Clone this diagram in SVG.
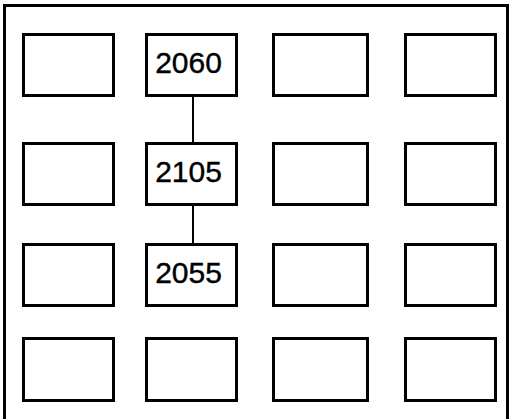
<svg xmlns="http://www.w3.org/2000/svg" width="514" height="419" viewBox="0 0 514 419">
<style>
.b{fill:#fff;stroke:#000;stroke-width:3}
.t{font-family:"Liberation Sans",Arial,sans-serif;font-size:30px;fill:#000;stroke:#000;stroke-width:0.4;text-anchor:middle}
.c{stroke:#000;stroke-width:2;fill:none}
</style>
<rect width="514" height="419" fill="#fff"/>
<path d="M4.5,425 V5.5 H507.5 V425" fill="none" stroke="#000" stroke-width="3"/>
<g id="connectors">
<line class="c" x1="193" y1="96" x2="193" y2="143"/>
<line class="c" x1="193" y1="205" x2="193" y2="244"/>
</g>
<g id="r1c1"><rect class="b" x="23.5" y="34.5" width="90" height="61"/></g>
<g id="n2060"><rect class="b" x="146.5" y="34.5" width="90" height="61"/><text class="t" x="188.5" y="73">2060</text></g>
<g id="r1c3"><rect class="b" x="273.5" y="34.5" width="94" height="61"/></g>
<g id="r1c4"><rect class="b" x="405.5" y="34.5" width="90" height="61"/></g>
<g id="r2c1"><rect class="b" x="23.5" y="143.5" width="90" height="61"/></g>
<g id="n2105"><rect class="b" x="146.5" y="143.5" width="90" height="61"/><text class="t" x="188.5" y="182">2105</text></g>
<g id="r2c3"><rect class="b" x="273.5" y="143.5" width="94" height="61"/></g>
<g id="r2c4"><rect class="b" x="405.5" y="143.5" width="90" height="61"/></g>
<g id="r3c1"><rect class="b" x="23.5" y="244.5" width="90" height="61"/></g>
<g id="n2055"><rect class="b" x="146.5" y="244.5" width="90" height="61"/><text class="t" x="188.5" y="283">2055</text></g>
<g id="r3c3"><rect class="b" x="273.5" y="244.5" width="94" height="61"/></g>
<g id="r3c4"><rect class="b" x="405.5" y="244.5" width="90" height="61"/></g>
<g id="r4c1"><rect class="b" x="23.5" y="338.5" width="90" height="62"/></g>
<g id="r4c2"><rect class="b" x="146.5" y="338.5" width="90" height="62"/></g>
<g id="r4c3"><rect class="b" x="273.5" y="338.5" width="94" height="62"/></g>
<g id="r4c4"><rect class="b" x="405.5" y="338.5" width="90" height="62"/></g>
</svg>
